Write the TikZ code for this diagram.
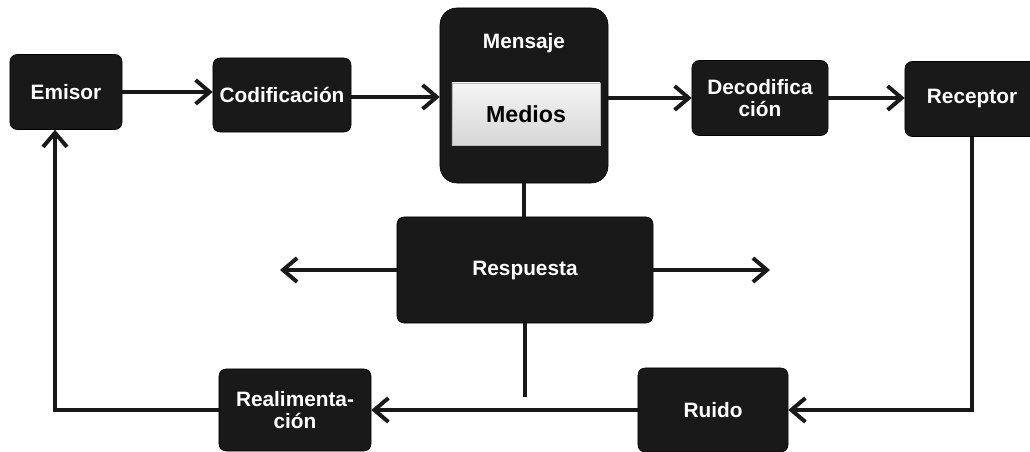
\documentclass[tikz,border=0pt]{standalone}
\usepackage{fontspec}
\setmainfont{Liberation Sans}
\usetikzlibrary{arrows.meta,positioning,calc}

\begin{document}
\begin{tikzpicture}[
    x=0.025cm, y=-0.025cm,
    >={Straight Barb[length=10pt,width=17pt,line width=2.8pt]},
    box/.style={draw=black, fill=black!90, rounded corners=5pt, text=white,
                font=\fontsize{14.8}{16}\selectfont\bfseries, align=center,
                inner sep=2pt},
    mediabox/.style={draw=gray!55, top color=gray!8, bottom color=gray!32,
                font=\fontsize{16.5}{18}\selectfont\bfseries, text=black,
                minimum width=3.7cm, minimum height=1.55cm},
    lbl/.style={font=\fontsize{14.8}{16}\selectfont\bfseries, text=white},
    arr/.style={->, line width=2.8pt, color=black!90},
    lin/.style={line width=2.8pt, color=black!90},
  ]
  \useasboundingbox (0,0) rectangle (1030,452);

  % Top chain
  \node[box, minimum width=2.8cm, minimum height=1.875cm] (emisor) at (66,92) {Emisor};
  \node[box, minimum width=3.45cm, minimum height=1.85cm] (codif) at (282,95) {Codificación};
  \node[box, rounded corners=12pt, minimum width=4.2cm, minimum height=4.375cm] (mensaje) at (524,95.5) {};
  \node[lbl] (mensajelbl) at (524,43) {Mensaje};
  \node[mediabox] (medios) at (526,114) {Medios};
  \node[box, minimum width=3.4cm, minimum height=1.875cm] (decodif) at (760,98) {Decodifica\\ción};
  \node[box, minimum width=3.35cm, minimum height=1.875cm] (receptor) at (972,99) {Receptor};

  % Middle and bottom
  \node[box, minimum width=6.4cm, minimum height=2.65cm] (respuesta) at (525,270) {Respuesta};
  \node[box, minimum width=3.75cm, minimum height=2.1cm] (ruido) at (713,410) {Ruido};
  \node[box, minimum width=3.8cm, minimum height=2.05cm] (realim) at (295,410) {Realimenta-\\ción};

  \coordinate (respleft) at (280,270);
  \coordinate (respright) at (770,270);
  \coordinate (respend) at (525,397);
  \coordinate (fbcorner) at (55,410);

  % Connectors
  \draw[arr] (emisor) -- (codif.west |- emisor);
  \draw[arr] (codif.east |- 0,97) -- (mensaje.west |- 0,97);
  \draw[arr] (mensaje.east |- decodif) -- (decodif.west);
  \draw[arr] (decodif.east) -- (decodif.east -| receptor.west);
  \draw[lin] (mensaje.south) -- (mensaje.south |- respuesta.north);
  \draw[arr] (respuesta.west) -- (respleft);
  \draw[arr] (respuesta.east) -- (respright);
  \draw[lin] (respuesta.south) -- (respend);
  \draw[arr] (receptor.south) |- (ruido.east);
  \draw[arr] (ruido.west) -- (realim.east);
  \draw[arr] (realim.west) -- (fbcorner) -- (fbcorner |- emisor.south);
\end{tikzpicture}
\end{document}
